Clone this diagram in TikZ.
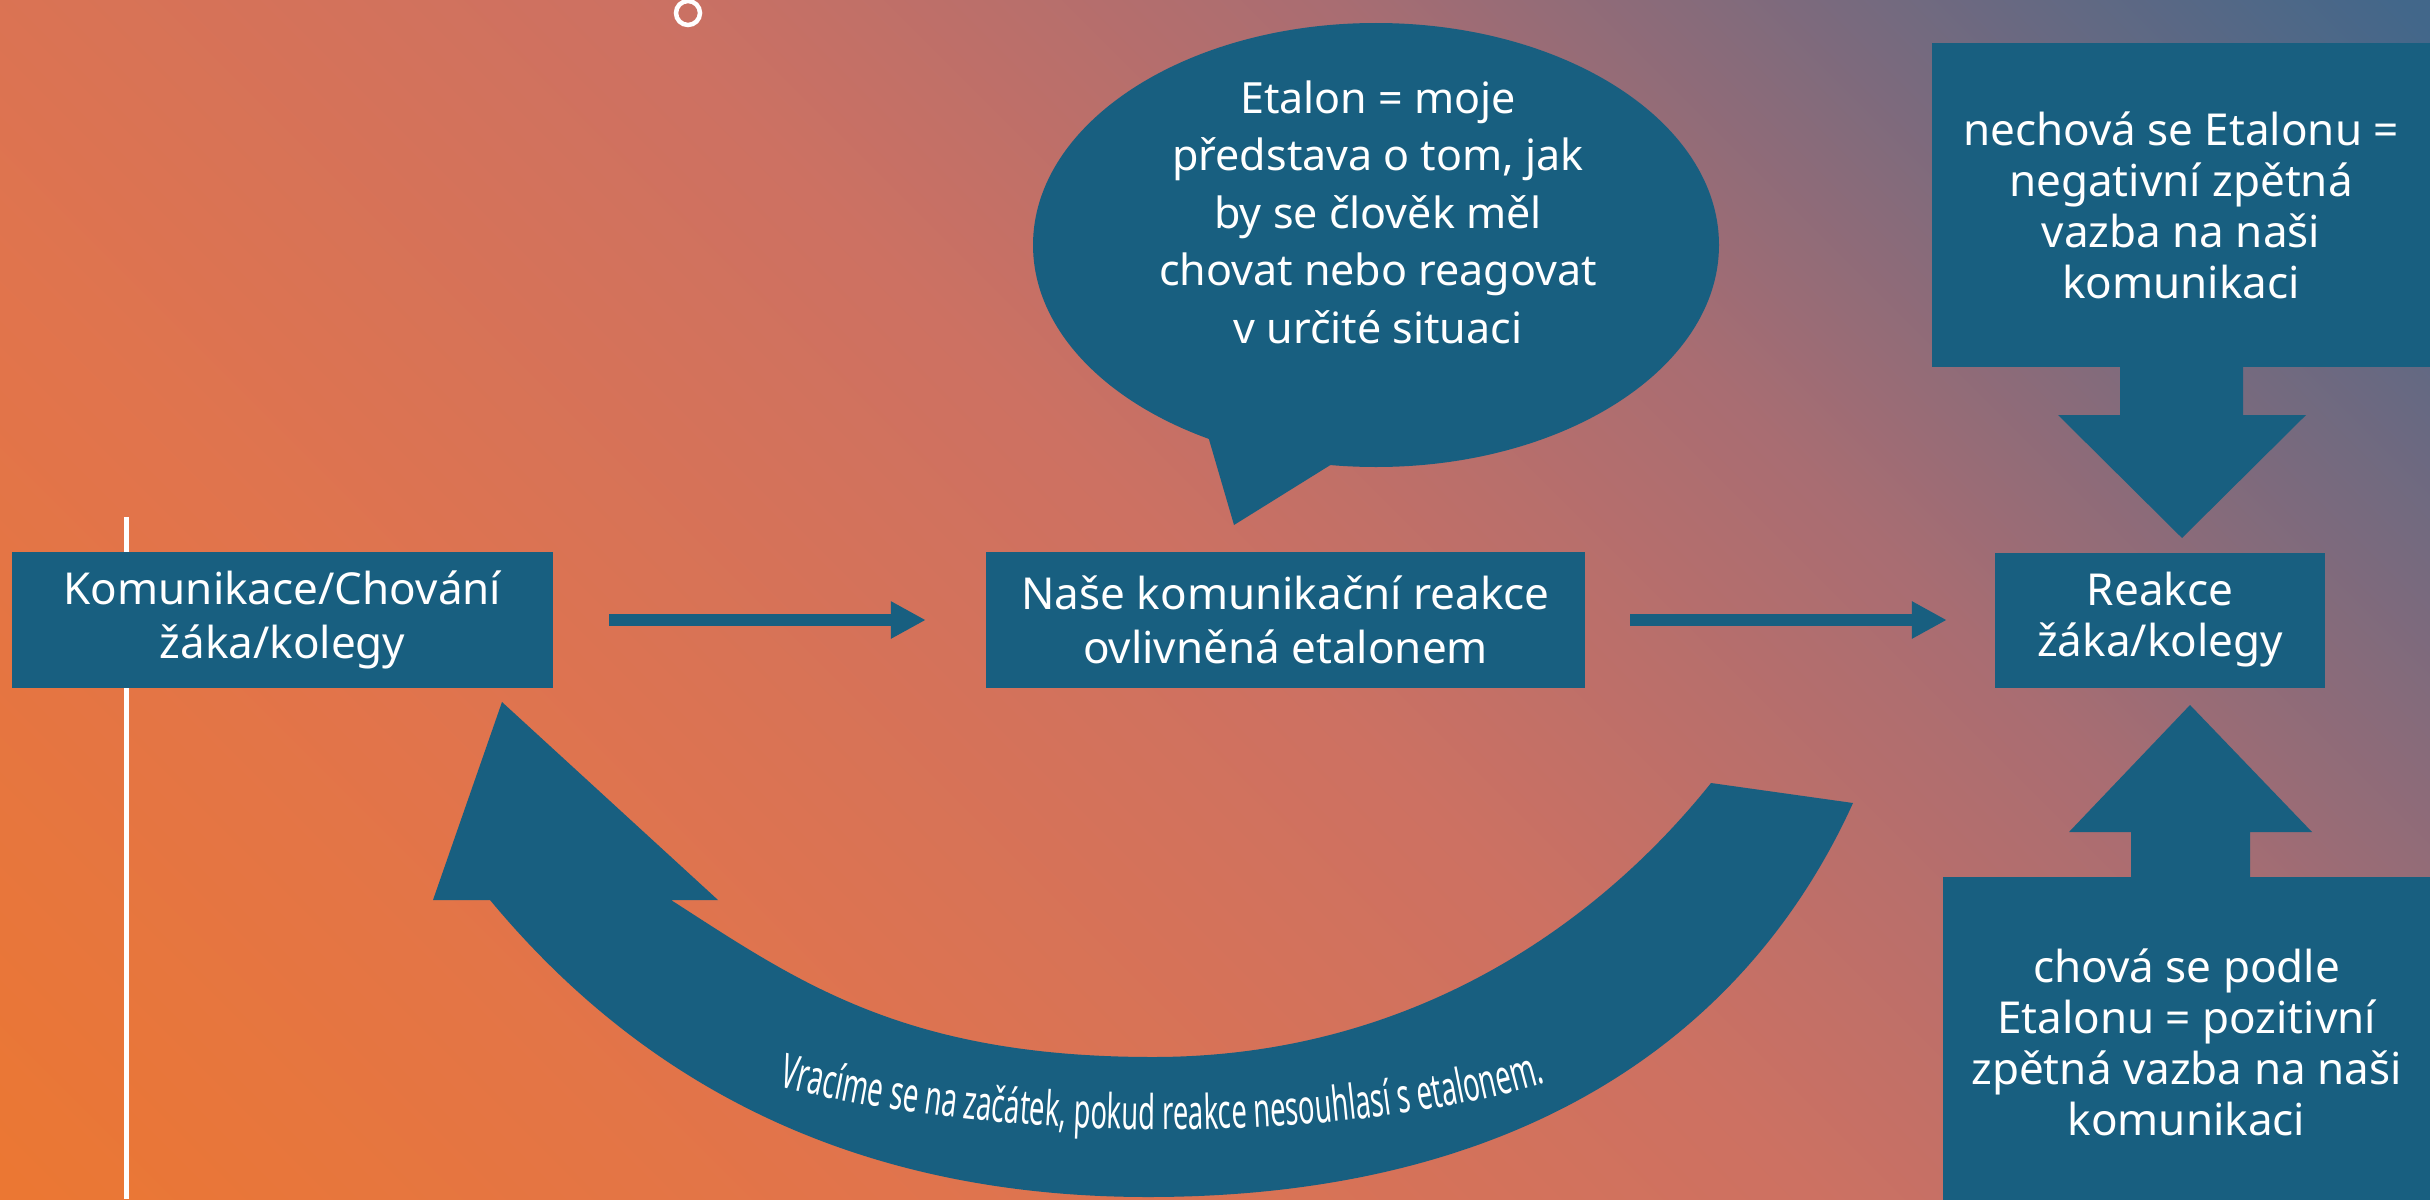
\documentclass[tikz,border=0pt]{standalone}
\usepackage{fontspec}
\newfontfamily\boxfont{Noto Sans}
\newfontfamily\arcfont[FakeStretch=0.57]{Noto Sans}
\usetikzlibrary{arrows.meta,shapes.geometric,decorations.text}

\definecolor{boxblue}{RGB}{24,95,128}
\definecolor{bgA}{RGB}{235,119,51}
\definecolor{bgB}{RGB}{225,116,76}
\definecolor{bgC}{RGB}{205,113,98}
\definecolor{bgD}{RGB}{169,109,114}
\definecolor{bgE}{RGB}{120,106,126}
\definecolor{bgF}{RGB}{66,103,138}
\pgfdeclarehorizontalshading{backdrop}{100bp}{color(0bp)=(bgA); color(15bp)=(bgA); color(32bp)=(bgB); color(50bp)=(bgC); color(64bp)=(bgD); color(74bp)=(bgE); color(85bp)=(bgF); color(100bp)=(bgF)}

\tikzset{
  box/.style={rectangle, fill=boxblue, text=white, inner sep=0pt, align=center, font=\boxfont\fontsize{44}{54}\selectfont},
  sidebox/.style={box, font=\boxfont\fontsize{44}{51}\selectfont},
  flow/.style={boxblue, line width=12pt, -{Triangle[length=35pt,width=35pt]}},
  bubble/.style={ellipse, fill=boxblue, inner sep=0pt, minimum width=686pt, minimum height=444pt},
}

\begin{document}
\begin{tikzpicture}[x=1pt,y=-1pt]
	\useasboundingbox (0,0) rectangle (2430,1199);
	\clip (0,0) rectangle (2430,1199);
	\shade[shading=backdrop, shading angle=45] (0,0) rectangle (2430,1199);
	\draw[white, line width=4.5pt] (688,13) circle[radius=12pt];
	\draw[white, line width=5pt] (126,517) -- (126,1199);

	\node[box, minimum width=541pt, minimum height=136pt] (komunikace) at (282.5,620) {Komunikace/Chování\\žáka/kolegy};
	\node[box, minimum width=599pt, minimum height=136pt] (nasereakce) at (1285.5,620) {Naše komunikační reakce\\ovlivněná etalonem};
	\node[sidebox, minimum width=330pt, minimum height=135pt] (reakce) at (2160,620) {Reakce\\žáka/kolegy};
	\node[sidebox, minimum width=498pt, minimum height=324pt] (negativni) at (2181,205) {nechová se Etalonu =\\negativní zpětná\\vazba na naši\\komunikaci};
	\node[sidebox, minimum width=487pt, minimum height=330pt] (pozitivni) at (2186.5,1042) {chová se podle\\Etalonu = pozitivní\\zpětná vazba na naši\\komunikaci};

	\node[bubble] (etalon) at (1376,245) {};
	\fill[boxblue] (1208,436) -- (1234,525) -- (1332,464) -- cycle;
	\node[box, font=\boxfont\fontsize{43}{57.5}\selectfont] (etalontext) at (1378,212) {Etalon = moje\\představa o tom, jak\\by se člověk měl\\chovat nebo reagovat\\v určité situaci};

	\draw[flow, shorten <=56pt, shorten >=60pt] (komunikace.east) -- (nasereakce.west);
	\draw[flow, shorten <=45pt, shorten >=48pt] (nasereakce.east) -- (reakce.west);

	\fill[boxblue] (2120,367) -- (2243,367) -- (2243,415) -- (2306,415) -- (2182,538) -- (2058,415) -- (2120,415) -- cycle;
	\fill[boxblue] (2131,877) -- (2250,877) -- (2250,832) -- (2312,832) -- (2190,705) -- (2069,832) -- (2131,832) -- cycle;

	\fill[boxblue] (490,900) .. controls (618,1054) and (818,1197) .. (1148,1197) .. controls (1528,1197) and (1750,1030) .. (1853,803) -- (1711,783) .. controls (1599,923) and (1413,1057) .. (1153,1057) .. controls (903,1057) and (797,981) .. (671,900) -- (718,900) -- (502,702) -- (433,900) -- cycle;
	\path[decorate, decoration={text along path, text color=white, text align=center, text={|\arcfont\fontsize{48}{48}\selectfont|Vracíme se na začátek, pokud reakce nesouhlasí s etalonem.}}] (762,1082) .. controls (1000,1146) and (1350,1146) .. (1562,1078);
\end{tikzpicture}
\end{document}
